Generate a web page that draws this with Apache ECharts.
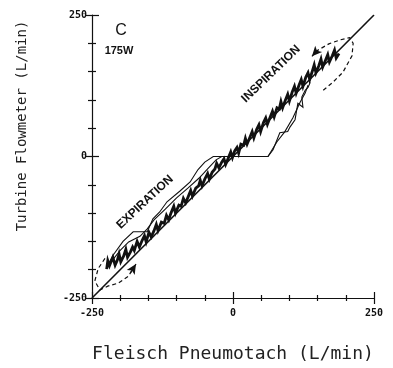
<!DOCTYPE html>
<html>
<head>
<meta charset="utf-8">
<script src="https://cdn.jsdelivr.net/npm/echarts@6/dist/echarts.min.js"></script>
<style>html,body{margin:0;padding:0;background:#fff}#c{width:393px;height:368px}</style>
</head>
<body>
<div id="c"></div>
<script>
// Axis ticks
const xTicks = [-250, 0, 250];
const yTicks = [-250, 0, 250];
// Line of identity
const identity = [[-250, -250], [250, 250]];
// Thick jagged measured trace (Turbine vs Fleisch)
const thickTrace = [
  [-224,-199],[-222,-184],[-219,-193],[-216,-190],[-213,-178],[-209,-192],[-205,-183],[-202,-172],[-199,-186],[-194,-176],[-190,-164],[-187,-178],[-182,-169],[-178,-160],[-175,-166],[-170,-150],[-166,-160],[-161,-148],[-157,-140],[-154,-151],[-149,-134],[-145,-142],[-140,-131],[-136,-120],[-133,-131],[-127,-116],[-122,-118],[-118,-104],[-114,-112],[-110,-100],[-105,-88],[-102,-100],[-96,-86],[-92,-88],[-88,-74],[-84,-82],[-79,-70],[-75,-60],[-72,-70],[-66,-56],[-61,-52],[-58,-42],[-55,-52],[-50,-40],[-45,-30],[-42,-40],[-37,-28],[-32,-22],[-29,-12],[-25,-20],[-20,-10],[-16,-4],[-13,-14],[-8,-2],[-4,8],[-1,-2],[3,10],[7,16],[10,6],[14,22],[19,20],[22,32],[25,22],[30,34],[34,44],[37,33],[42,48],[46,56],[49,44],[54,60],[58,68],[61,57],[66,70],[70,80],[73,70],[78,86],[82,84],[85,97],[88,86],[93,100],[97,110],[100,98],[105,114],[109,124],[112,112],[117,126],[121,136],[124,124],[129,140],[133,148],[136,136],[141,152],[144,162],[147,148],[152,160],[156,172],[159,158],[164,170],[168,180],[171,167],[176,178],[180,188],[183,174],[188,182]
];
// Thin loop traces
const thinA = [
  [-222,-192],[-213,-175],[-195,-150],[-177,-133],[-152,-133],[-142,-110],[-130,-98],[-117,-80],[-94,-61],[-76,-45],[-62,-23],[-50,-10],[-35,0],[62,0],[71,12],[83,42],[97,44],[101,52],[110,65],[115,94],[124,87],[122,105],[128,117],[133,122],[137,131]
];
const thinB = [
  [-215,-185],[-200,-166],[-185,-151],[-165,-141],[-152,-128],[-140,-112],[-120,-93],[-100,-73],[-80,-56],[-60,-38],[-45,-22],[-30,-6],[-20,0],[62,0],[78,26],[92,44],[106,68],[119,96],[128,112],[133,126]
];
// Dashed loops
const dashTop = [[160,117],[177,131],[195,149],[211,178],[213,200],[207,210],[190,206],[170,199],[149,187],[142,180]];
const dashBottom = [[-227,-180],[-239,-198],[-245,-220],[-236,-236],[-222,-229],[-204,-224],[-186,-212],[-177,-198]];
const arrowTop = [[150,188],[140,177]];
const arrowBottom = [[-182,-206],[-172,-190]];

const chart = echarts.init(document.getElementById('c'), null, {renderer: 'canvas'});
const tickFont = {fontFamily: 'DejaVu Sans Mono', fontWeight: 'bold', fontSize: 10, color: '#111'};
function xAx(inside, labels) {
  return {
    type: 'value', min: -250, max: 250, interval: 250, gridIndex: 0, position: 'bottom',
    axisLine: {show: !inside, onZero: false, lineStyle: {color: '#111', width: 1.2}},
    axisTick: {show: true, inside: inside, length: 6, lineStyle: {color: '#111', width: 1.2}},
    minorTick: {show: true, splitNumber: 5, length: 3, lineStyle: {color: '#111', width: 1.2}},
    splitLine: {show: false}, minorSplitLine: {show: false},
    axisLabel: Object.assign({show: labels, margin: 10,
      formatter: v => xTicks.includes(v) ? String(v) : ''}, tickFont)
  };
}
function yAx(inside, labels) {
  return {
    type: 'value', min: -250, max: 250, interval: 250, gridIndex: 0, position: 'left',
    axisLine: {show: !inside, onZero: false, lineStyle: {color: '#111', width: 1.2}},
    axisTick: {show: true, inside: inside, length: 7, lineStyle: {color: '#111', width: 1.2}},
    minorTick: {show: true, splitNumber: 5, length: 4, lineStyle: {color: '#111', width: 1.2}},
    splitLine: {show: false}, minorSplitLine: {show: false},
    axisLabel: Object.assign({show: labels, margin: 5,
      formatter: v => yTicks.includes(v) ? String(v) : ''}, tickFont)
  };
}
const xa = xAx(false, true);
xa.name = 'Fleisch Pneumotach (L/min)';
xa.nameLocation = 'middle';
xa.nameGap = 47;
xa.nameTextStyle = {fontFamily: 'DejaVu Sans Mono', fontSize: 18, color: '#222'};

function lineSeries(data, width, dashed, extra) {
  return Object.assign({
    type: 'line', data: data, showSymbol: false, symbol: 'none', silent: true,
    lineStyle: {color: '#111', width: width, type: dashed ? [4, 3] : 'solid', join: 'miter'},
    xAxisIndex: 0, yAxisIndex: 0, animation: false
  }, extra || {});
}
function arrowMark(seg) {
  return {
    silent: true, animation: false, symbol: ['none', 'arrow'], symbolSize: [7, 10],
    label: {show: false},
    lineStyle: {color: '#111', width: 1.2, type: 'solid'},
    data: [[{coord: seg[0]}, {coord: seg[1]}]]
  };
}

chart.setOption({
  animation: false,
  backgroundColor: '#fff',
  grid: {left: 92, right: 19, top: 15, bottom: 68},
  xAxis: [xa, xAx(true, false)],
  yAxis: [yAx(false, true), yAx(true, false)],
  series: [
    lineSeries(identity, 1.6, false),
    lineSeries(thinA, 1.1, false),
    lineSeries(thinB, 1.1, false),
    lineSeries(thickTrace, 2.8, false),
    lineSeries(dashTop, 1.2, true, {markLine: arrowMark(arrowTop)}),
    lineSeries(dashBottom, 1.2, true, {markLine: arrowMark(arrowBottom)})
  ],
  graphic: [
    {type: 'text', x: 22, y: 126, rotation: Math.PI / 2, silent: true,
     style: {text: 'Turbine Flowmeter (L/min)', align: 'center', verticalAlign: 'middle',
             font: '14px "DejaVu Sans Mono"', fill: '#222'}},
    {type: 'text', x: 121, y: 31, silent: true,
     style: {text: 'C', align: 'center', verticalAlign: 'middle', font: '16px "Liberation Sans"', fill: '#111'}},
    {type: 'text', x: 119, y: 51, silent: true,
     style: {text: '175W', align: 'center', verticalAlign: 'middle', font: 'bold 11px "Liberation Sans"', fill: '#111'}},
    {type: 'text', x: 271, y: 74, rotation: 44 * Math.PI / 180, silent: true,
     style: {text: 'INSPIRATION', align: 'center', verticalAlign: 'middle', font: 'bold 12px "Liberation Sans"', fill: '#111'}},
    {type: 'text', x: 145, y: 202, rotation: 43 * Math.PI / 180, silent: true,
     style: {text: 'EXPIRATION', align: 'center', verticalAlign: 'middle', font: 'bold 12px "Liberation Sans"', fill: '#111'}}
  ]
});
</script>
</body>
</html>
